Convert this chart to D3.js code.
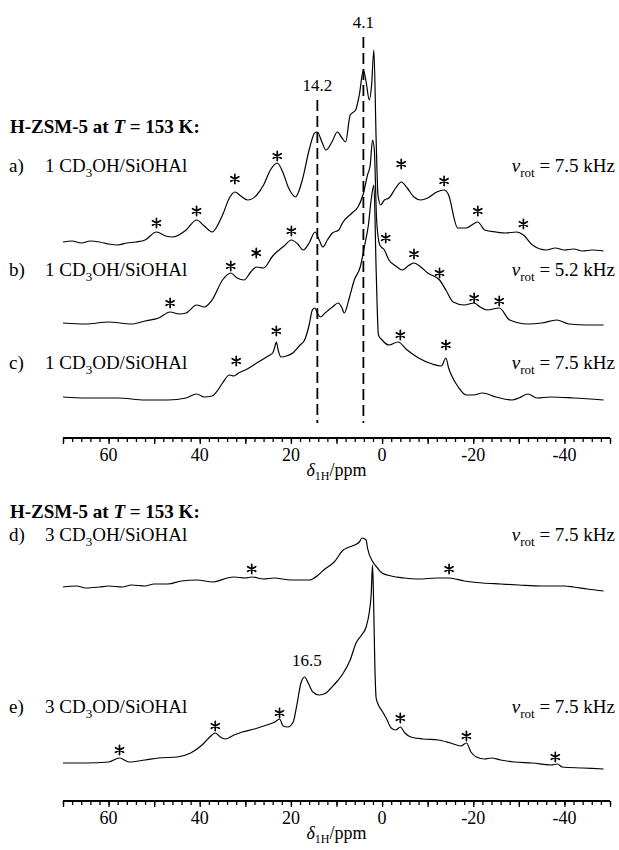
<!DOCTYPE html>
<html><head><meta charset="utf-8">
<script src="https://cdn.jsdelivr.net/npm/d3@7"></script>
<style>
body{margin:0;background:#fff}
svg{display:block}
svg text{font-family:"Liberation Serif","Times New Roman",Times,serif;fill:#000}
</style>
</head><body>
<svg id="chart" width="619" height="850" font-family="Liberation Serif, Times New Roman, serif"></svg>
<script>
// ---------------- DATA ----------------
const axisDomain = [70, -50];
const tickLabels = [60, 40, 20, 0, -20, -40];
const minorStep = 2;

const panelLabels = ["a)", "b)", "c)", "d)", "e)"];
const loadings = ["1", "1", "1", "3", "3"];
const probeEnds = ["OH", "OH", "OD", "OH", "OD"];
const rotSpeeds = ["7.5", "5.2", "7.5", "7.5", "7.5"];
const titleTemp = "153";

// spectrum a) 1 CD3OH, 7.5 kHz
const specA_ppm = [70,68,66,64,62,60,58,56,54,52,49.5,47.5,46,43,40.7,39,37.3,35,33.5,32.3,31,29.5,27.5,26,24.5,23,21.8,20.5,19,17.5,16,14.8,14.2,13.2,12.3,11,9.8,8.8,8,7,5.8,5,4.1,3.5,2.8,2.3,1.8,1.3,0.9,0.3,-0.5,-1.5,-3,-4.2,-5.5,-7,-8.5,-10,-12,-13.6,-14.5,-16.6,-18.5,-20,-21,-22.5,-25,-27,-29.5,-31,-33,-36,-38,-40,-42,-44,-46,-48.6];
const specA_int = [0,1,-1,1,0,-2,-3,-1,0,2,10,6,5,12,22,16,10,27,44,50,46,42,47,57,72,79,70,54,45,62,92,109,110,100,92,100,110,104,100,127,132,147,172,160,142,157,192,102,47,37,42,44,54,60,54,45,42,44,50,52,48,14,14,18,20,12,10,9,10,7,-3,-8,-6,-8,-7,-9,-8,-9];
const starsA_ppm = [49.5,40.7,32.3,23,-4.2,-13.6,-21,-31];
const starsA_int = [20,32,64,87,79,62,32,19];

// spectrum b) 1 CD3OH, 5.2 kHz
const specB_ppm = [70,65,60,55,52,49,46.5,44.5,43,40.7,39,37.3,35,33.2,31.8,30.3,28.8,27.6,26,24,21.5,19.9,18.5,17.3,16,14.7,13.8,13,12,10.9,9.5,8.7,6.6,5.3,4.2,3.2,2.6,2.1,1.7,1.2,0.5,-0.5,-1.5,-3,-4.4,-6,-7,-8.5,-10,-12.6,-14,-15.6,-18,-20.2,-21.5,-23,-25.7,-28,-32,-35,-38.3,-41,-45,-48.6];
const specB_int = [0,-1,1,-1,2,5,11,9,10,18,16,23,43,50,45,43,51,56,55,67,77,83,79,73,80,91,83,76,83,90,93,100,110,116,128,148,158,183,173,103,78,73,63,57,53,58,60,56,50,43,33,21,18,20,16,13,15,3,-1,0,3,-1,-2,-2];
const starsB_ppm = [46.5,33.2,27.6,19.9,-0.8,-7,-12.6,-20.2,-25.7];
const starsB_int = [21,58,71,93,86,70,51,26,23];

// spectrum c) 1 CD3OD, 7.5 kHz
const specC_ppm = [70,65,58,52,47,43,40.7,39,37.3,36,35,33.5,32.5,31.5,30,27.5,25,24,23.6,23.2,22.8,22.2,21,19.6,18,17,16,15.3,14.8,14.2,13.5,12.5,10.9,9.6,8.8,8.3,7.2,6.1,4.8,3.8,3,2.4,1.8,1.3,0.8,0,-1.5,-3.5,-5.5,-8,-11,-13,-14,-14.6,-15,-16.7,-18.5,-20,-22,-25,-28.5,-30,-32,-34,-37,-42,-48.6];
const specC_int = [1,0,0,-2,-2,0,4,1,2,8,15,23,22,25,28,35,42,45,50,56,48,41,42,45,53,58,73,88,90,85,81,85,91,95,90,85,100,118,131,153,173,198,213,128,63,58,53,56,48,40,34,32,40,30,25,11,3,3,5,1,-2,0,4,0,1,0,-2];
const starsC_ppm = [32,23.2,-4,-14];
const starsC_int = [38,68,64,54];

// spectrum d) 3 CD3OH, 7.5 kHz
const specD_ppm = [70,67,65,62,60,57,55,52,50,47,44,40.7,37,34,32.5,30,28.6,26,23.7,20,16,14,12.8,10.5,8.5,7.7,7.2,6,5,4.4,3.5,3.2,2,1,0,-2,-4.9,-8,-12,-14.7,-18,-22,-26,-30,-35,-40,-42,-45,-48.6];
const specD_int = [0,1,-1,0,1,0,2,1,3,3,6,7,5,9,10,9,10,8,9,7,7,12,17,25,37,39,40,42,45,49,47,39,25,19,14,11,9,8,9,9,6,4,3,2,1,1,0,-2,-4];
const starsD_ppm = [28.6,-14.7];
const starsD_int = [19,19];

// spectrum e) 3 CD3OD, 7.5 kHz
const specE_ppm = [70,65,60,57.6,55.5,52,49,45,42,39.5,38,36.6,35.5,34.4,32.5,30.7,28,25.3,23.5,22.5,21.7,20.7,19.5,18.7,17.8,17,16.2,15.2,13.8,12.3,11.2,9.8,8.5,7,5.7,4.5,3.5,2.8,2.4,2.1,1.9,1.6,1.3,0.8,0,-1,-2,-3,-4,-5,-6.3,-9,-12.3,-15,-17.3,-18.5,-19.5,-20.7,-22.5,-24,-26,-29,-33,-37,-38.5,-39.5,-44,-48.6];
const specE_int = [0,0,1,5,1,3,5,6,10,18,25,30,26,24,28,31,34,38,41,44,37,36,41,58,80,86,80,71,68,70,75,82,90,103,120,128,136,151,168,198,170,100,65,58,52,44,35,33,36,30,26,24,23,20,17,20,11,6,4,5,3,1,0,-2,-1,-4,-5,-6];
const starsE_ppm = [57.6,36.6,22.5,-4,-18.5,-38];
const starsE_int = [14,38,51,46,28,7];

const peakLabelsTop = [4.1, 14.2];
const peakLabelBottom = 16.5;

// ---------------- LAYOUT ----------------
const svg = d3.select("#chart");
const x = d3.scaleLinear().domain(axisDomain).range([63, 610]);
const SERIF = '"Liberation Serif","Times New Roman",Times,serif';

const spectra = [
  {ppm: specA_ppm, v: specA_int, sp: starsA_ppm, sv: starsA_int, base: 242, ly: 172},
  {ppm: specB_ppm, v: specB_int, sp: starsB_ppm, sv: starsB_int, base: 323, ly: 276},
  {ppm: specC_ppm, v: specC_int, sp: starsC_ppm, sv: starsC_int, base: 398, ly: 369},
  {ppm: specD_ppm, v: specD_int, sp: starsD_ppm, sv: starsD_int, base: 587, ly: 541},
  {ppm: specE_ppm, v: specE_int, sp: starsE_ppm, sv: starsE_int, base: 763, ly: 713}
];

function title(yb) {
  const t = svg.append("text").attr("x", 10).attr("y", yb)
    .attr("font-size", 19).attr("font-weight", "bold").attr("font-family", SERIF);
  t.append("tspan").text("H-ZSM-5 at ");
  t.append("tspan").attr("font-style", "italic").text("T");
  t.append("tspan").text(" = " + titleTemp + " K:");
}
title(133);
title(518);

const dashTop = [37, 100];
peakLabelsTop.forEach((p, i) => {
  svg.append("line").attr("x1", x(p)).attr("x2", x(p))
    .attr("y1", dashTop[i]).attr("y2", 423)
    .attr("stroke", "#000").attr("stroke-width", 1.8)
    .attr("stroke-dasharray", "11,5");
});
svg.append("text").attr("x", x(peakLabelsTop[0])).attr("y", 28).attr("font-family", SERIF)
  .attr("text-anchor", "middle").attr("font-size", 17).text(peakLabelsTop[0].toFixed(1));
svg.append("text").attr("x", x(peakLabelsTop[1])).attr("y", 91).attr("font-family", SERIF)
  .attr("text-anchor", "middle").attr("font-size", 17).text(peakLabelsTop[1].toFixed(1));
svg.append("text").attr("x", x(peakLabelBottom)).attr("y", 666).attr("font-family", SERIF)
  .attr("text-anchor", "middle").attr("font-size", 17).text(peakLabelBottom.toFixed(1));

// six-spoke asterisk mark marking spinning sidebands
function asterisk(cx, cy) {
  const p = d3.path();
  const r = 4.6;
  [90, 30, 150].forEach(a => {
    const t = a * Math.PI / 180;
    p.moveTo(cx - r * Math.cos(t), cy - r * Math.sin(t));
    p.lineTo(cx + r * Math.cos(t), cy + r * Math.sin(t));
  });
  return p.toString();
}

spectra.forEach((s, i) => {
  const y = d3.scaleLinear().domain([0, 100]).range([s.base, s.base - 100]);
  const pts = s.ppm.map((p, k) => [x(p), y(s.v[k])]);
  const line = d3.line().curve(d3.curveMonotoneX);
  svg.append("path").attr("d", line(pts)).attr("fill", "none")
    .attr("stroke", "#000").attr("stroke-width", 1.2).attr("stroke-linejoin", "round");
  s.sp.forEach((p, k) => {
    svg.append("path").attr("d", asterisk(x(p), y(s.sv[k]) + 1))
      .attr("stroke", "#000").attr("stroke-width", 1.7).attr("stroke-linecap", "round")
      .attr("fill", "none");
  });
  svg.append("text").attr("x", 9).attr("y", s.ly).attr("font-size", 19)
    .attr("font-family", SERIF).text(panelLabels[i]);
  const t = svg.append("text").attr("x", 45).attr("y", s.ly).attr("font-size", 19).attr("font-family", SERIF);
  t.append("tspan").text(loadings[i] + " CD");
  t.append("tspan").attr("font-size", 13).attr("dy", 5).text("3");
  t.append("tspan").attr("dy", -5).text(probeEnds[i] + "/SiOHAl");
  const r = svg.append("text").attr("x", 615).attr("y", s.ly).attr("font-size", 19)
    .attr("text-anchor", "end").attr("font-family", SERIF);
  r.append("tspan").attr("font-style", "italic").text("\u03BD");
  r.append("tspan").attr("font-size", 13).attr("dy", 5).text("rot");
  r.append("tspan").attr("dy", -5).text(" = " + rotSpeeds[i] + " kHz");
});

function drawAxis(yAxis) {
  const g = svg.append("g").attr("transform", `translate(0,${yAxis})`);
  const minor = d3.range(axisDomain[0], axisDomain[1] - 0.001, -minorStep);
  g.call(d3.axisBottom(x).tickValues(minor).tickSize(4).tickFormat(""));
  const major = d3.range(axisDomain[0], axisDomain[1] - 0.001, -10);
  g.append("g").call(d3.axisBottom(x).tickValues(major).tickSize(6).tickFormat(""));
  g.selectAll(".domain").attr("stroke-width", 2.2).attr("d", `M${x(axisDomain[0])},0H${x(axisDomain[1])}`);
  g.selectAll(".tick line").attr("stroke-width", 1.3);
  tickLabels.forEach(v => {
    g.append("text").attr("x", x(v)).attr("y", 23).attr("text-anchor", "middle")
      .attr("font-size", 18).attr("font-family", SERIF).text(v);
  });
  const lab = g.append("text").attr("x", x((axisDomain[0] + axisDomain[1]) / 2)).attr("y", 38)
    .attr("text-anchor", "middle").attr("font-size", 18).attr("font-family", SERIF);
  lab.append("tspan").attr("font-style", "italic").text("\u03B4");
  lab.append("tspan").attr("font-size", 12).attr("dy", 4).text("1H");
  lab.append("tspan").attr("dy", -4).text("/ppm");
}
drawAxis(438);
drawAxis(801);
</script>
</body></html>
